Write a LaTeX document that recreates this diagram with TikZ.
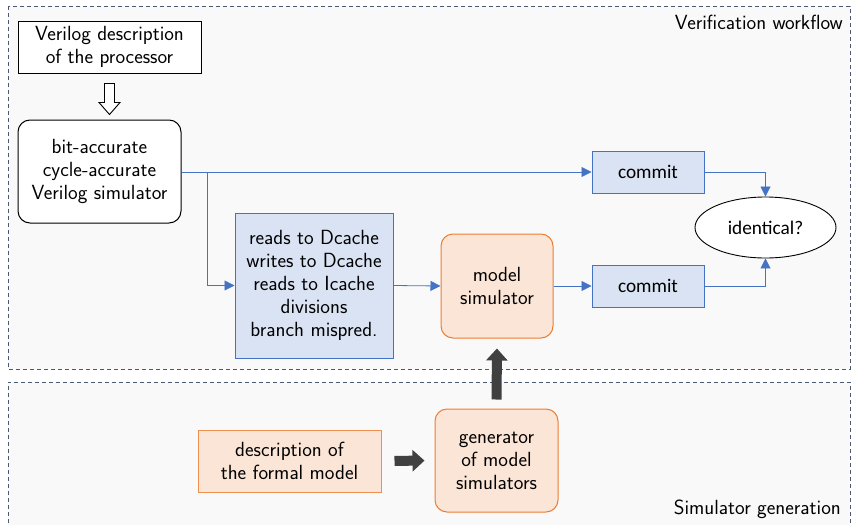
\documentclass[tikz,border=0pt]{standalone}
\usepackage{fontspec}
\newfontfamily\carlito{Carlito}
\usetikzlibrary{arrows.meta,calc,shapes.geometric}
\definecolor{bluefill}{HTML}{DAE3F3}
\definecolor{blueline}{HTML}{4472C4}
\definecolor{orfill}{HTML}{FBE5D6}
\definecolor{orline}{HTML}{ED7D31}
\definecolor{orlight}{HTML}{F09050}
\definecolor{dashc}{HTML}{4A5A72}
\definecolor{bgc}{HTML}{F9F9F9}
\definecolor{thick}{HTML}{404040}
\begin{document}
\begin{tikzpicture}[x=1pt,y=-1pt,
  every node/.style={font=\sffamily\fontsize{20.5}{23}\selectfont, align=center, inner sep=0pt},
  region/.style={draw=dashc, dashed, dash pattern=on 4pt off 3pt, line width=0.9pt},
  plainbox/.style={draw=black, line width=1pt, fill=white},
  blueb/.style={draw=blueline, line width=1pt, fill=bluefill},
  orb/.style={draw=orline, line width=1pt, fill=orfill, rounded corners=12pt},
  carl/.style={font=\carlito\fontsize{19.3}{23}\selectfont},
  conn/.style={draw=blueline, line width=0.8pt, -{Triangle[width=10pt,length=10pt]}},
  fat/.style={draw=thick, line width=10pt, -{Triangle[width=21pt,length=12pt]}},
  lbl/.style={font=\sffamily\fontsize{20.5}{23}\selectfont}
]
\useasboundingbox (0,0) rectangle (854,525);
\fill[white] (0,0) rectangle (854,525);
% regions
\fill[bgc] (8,6) rectangle (850,369);
\fill[bgc] (8,382) rectangle (850,525);
\draw[region] (8,6) rectangle (850,369);
\draw[region] (8,530) -- (8,382) -- (850,382) -- (850,530);
\node[lbl, anchor=east] (vw) at (843,22) {Verification workflow};
\node[lbl, anchor=east] (sg) at (841,509) {Simulator generation};
% nodes
\node[plainbox, minimum width=183pt, minimum height=52pt] (vd) at (109.5,47) {Verilog description\\of the processor};
\node[plainbox, rounded corners=12pt, minimum width=163pt, minimum height=103pt] (vs) at (99.5,171.5) {bit-accurate\\cycle-accurate\\Verilog simulator};
\node[blueb, minimum width=158pt, minimum height=145pt] (rd) at (314,285.5) {reads to Dcache\\writes to Dcache\\reads to Icache\\divisions\\branch mispred.};
\node[orb, minimum width=112pt, minimum height=104pt] (ms) at (497,286) {model\\simulator};
\node[blueb, carl, minimum width=112pt, minimum height=42pt] (c1) at (648,172) {commit};
\node[blueb, carl, minimum width=112pt, minimum height=42pt] (c2) at (648,286) {commit};
\node[ellipse, carl, draw=black, line width=0.9pt, fill=white, minimum width=141pt, minimum height=61pt] (id) at (765.5,227.5) {identical?};
\node[draw=orlight, line width=1pt, fill=orfill, minimum width=183pt, minimum height=62pt] (fm) at (289.5,461) {description of\\the formal model};
\node[orb, minimum width=123pt, minimum height=103pt] (gen) at (496.5,460.5) {generator\\of model\\simulators};
% hollow arrow
\coordinate (ha) at ($(vd.south)+(0,10)$);
\draw[line width=0.9pt, fill=white] ($(ha)+(-5,0)$) -- ++(10,0) -- ++(0,19) -- ++(5.5,0) -- ($(ha)+(0,31)$) -- ($(ha)+(-10.5,19)$) -- ($(ha)+(-5,19)$) -- cycle;
% connectors
\coordinate (br) at (207,172);
\draw[conn] (vs.east |- c1.west) -- (c1.west);
\draw[conn] (br) |- (rd.west);
\draw[conn] (rd.east) -- (ms.west);
\draw[conn] (ms.east) -- (c2.west);
\draw[conn] (c1.east) -| (id.north);
\draw[conn] (c2.east) -| (id.south);
% fat arrows
\draw[fat, shorten <=9pt, shorten >=10pt] (gen.north) -- (ms.south);
\draw[fat, shorten <=13pt, shorten >=10pt] (fm.east) -- (gen.west);
\end{tikzpicture}
\end{document}
